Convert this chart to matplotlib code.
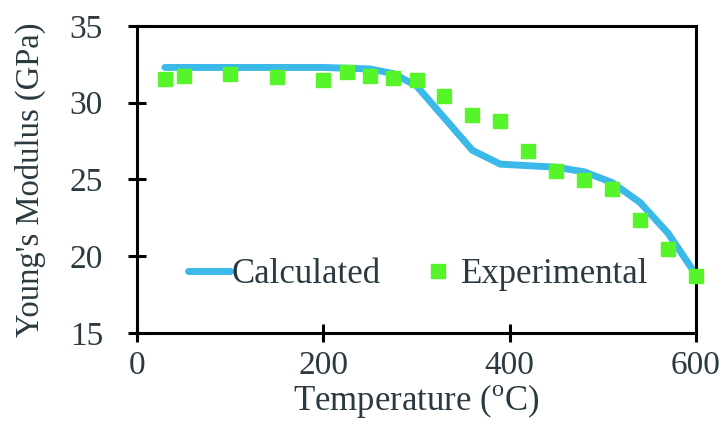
import matplotlib
matplotlib.use("Agg")
import matplotlib.pyplot as plt

plt.rcParams['font.family'] = ['Liberation Serif', 'DejaVu Serif']
plt.rcParams['mathtext.fontset'] = 'custom'
plt.rcParams['mathtext.rm'] = 'Liberation Serif'

calc_T = [30, 50, 100, 150, 200, 250, 275, 300, 330, 360, 390, 420, 450, 480, 510, 540, 570, 600]
calc_E = [32.3, 32.3, 32.3, 32.3, 32.3, 32.2, 31.9, 31.1, 29.0, 26.9, 26.0, 25.9, 25.8, 25.5, 24.8, 23.5, 21.5, 18.8]

exp_T = [30, 50, 100, 150, 200, 225, 250, 275, 300, 330, 360, 390, 420, 450, 480, 510, 540, 570, 600]
exp_E = [31.55, 31.75, 31.86, 31.68, 31.49, 32.03, 31.75, 31.6, 31.49, 30.45, 29.21, 28.78, 26.87,
         25.53, 24.99, 24.40, 22.39, 20.48, 18.70]

x_ticks = [0, 200, 400, 600]
y_ticks = [15, 20, 25, 30, 35]

text_color = '#2b3a40'
fs = 25
tick_fs = 24

fig = plt.figure(figsize=(7.24, 4.24), dpi=100)
ax = fig.add_axes([137/724, 1 - 333/424, (696 - 137)/724, (333 - 26)/424])

ax.plot(calc_T, calc_E, color='#3bb9e9', lw=5, solid_capstyle='round', solid_joinstyle='round',
        label='Calculated', zorder=2)
ax.plot(exp_T, exp_E, ls='none', marker='s', ms=9.5, color='#55f52a', mec='#55f52a',
        label='Experimental', zorder=3, clip_on=False)

ax.set_xlim(0, 600)
ax.set_ylim(15, 35)
ax.set_xticks(x_ticks)
ax.set_yticks(y_ticks)
for s in ax.spines.values():
    s.set_linewidth(2.2)
    s.set_color('black')
ax.tick_params(direction='inout', length=13, width=2.2, labelsize=tick_fs, labelcolor=text_color)
ax.tick_params(axis='y', pad=18)
ax.tick_params(axis='x', pad=6)

ax.set_xlabel('Temperature ($^{\\mathrm{o}}$C)', fontsize=fs, color=text_color, labelpad=1)
ax.set_ylabel("Young's Modulus (GPa)", fontsize=23.5, color=text_color, labelpad=17)

leg = ax.legend(loc='center', bbox_to_anchor=(0.503, 0.19), ncol=2, frameon=False, fontsize=fs,
                handlelength=1.21, handletextpad=0.06, columnspacing=1.04, borderpad=0)
for t in leg.get_texts():
    t.set_color(text_color)

fig.savefig('out.png', dpi=100)
